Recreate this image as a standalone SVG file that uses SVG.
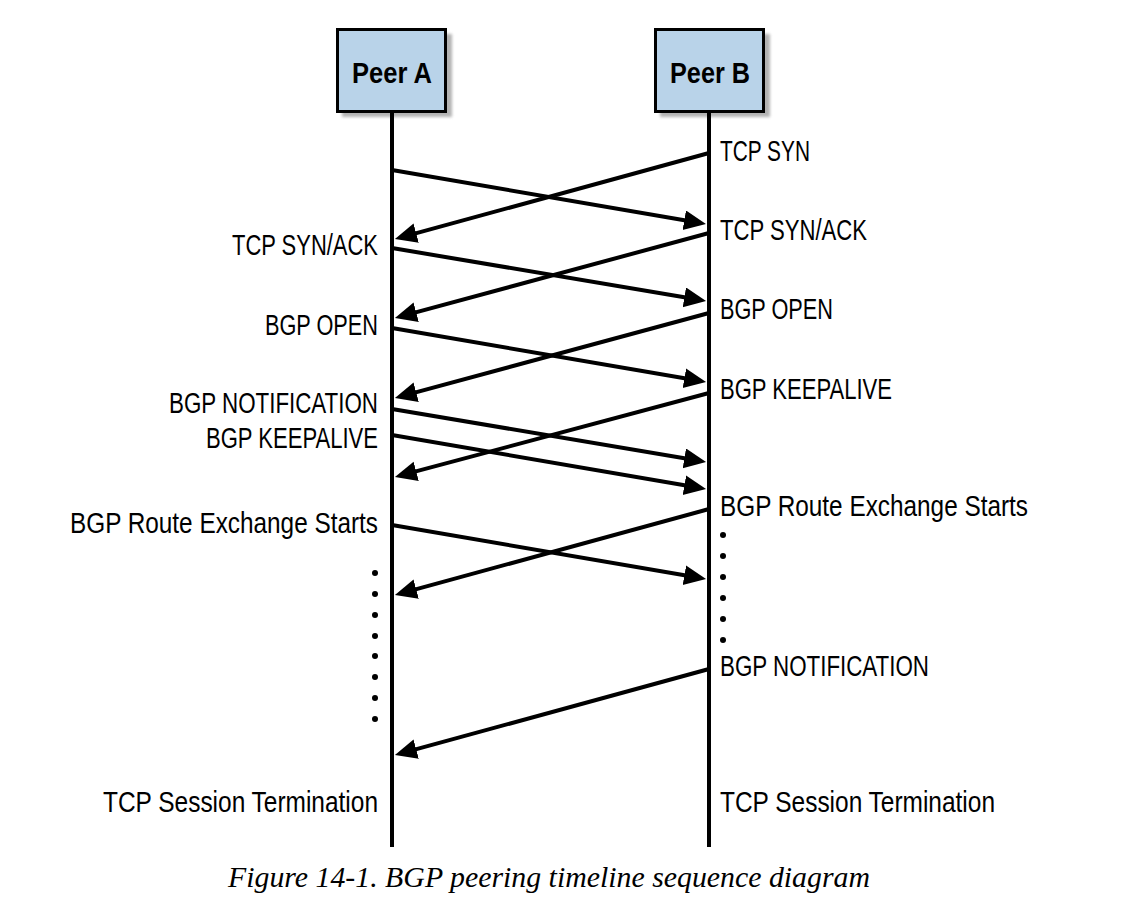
<svg xmlns="http://www.w3.org/2000/svg" width="1141" height="915" viewBox="0 0 1141 915">
<style>
.box{fill:#b9d3e9;stroke:#000;stroke-width:3}
.shadow{fill:#9a9a9a;opacity:0.75}
.life{stroke:#000;stroke-width:4;fill:none}
.msg{stroke:#000;stroke-width:4;fill:none;marker-end:url(#ah)}
.lbl{font-family:"Liberation Sans Narrow","Liberation Sans",Arial,sans-serif;font-size:30px;fill:#000}
.peer{font-family:"Liberation Sans Narrow","Liberation Sans",Arial,sans-serif;font-size:30px;font-weight:bold;fill:#000}
.cap{font-family:"Liberation Serif","Times New Roman",serif;font-style:italic;font-size:30px;fill:#000}
.dot{fill:#000}
</style>
<defs>
<filter id="blur" x="-10%" y="-10%" width="130%" height="130%"><feGaussianBlur stdDeviation="1.5"/></filter>
<marker id="ah" markerUnits="userSpaceOnUse" markerWidth="24" markerHeight="22" refX="12" refY="10" orient="auto">
<path d="M0,0 L22,10 L0,20 z" fill="#000"/>
</marker>
</defs>
<rect width="1141" height="915" fill="#fff"/>

<g id="peerA">
<rect class="shadow" x="342" y="34" width="110" height="83" filter="url(#blur)"/>
<rect class="box" x="337.5" y="29.5" width="108" height="82"/>
<text class="peer" x="392" y="83" text-anchor="middle" textLength="80" lengthAdjust="spacingAndGlyphs">Peer A</text>
</g>
<g id="peerB">
<rect class="shadow" x="660" y="34" width="110" height="83" filter="url(#blur)"/>
<rect class="box" x="655.5" y="29.5" width="108" height="82"/>
<text class="peer" x="710" y="83" text-anchor="middle" textLength="80" lengthAdjust="spacingAndGlyphs">Peer B</text>
</g>

<g id="lifelines">
<line class="life" x1="392" y1="112" x2="392" y2="847"/>
<line class="life" x1="709" y1="112" x2="709" y2="847"/>
</g>

<g id="connectors">
<path class="msg" d="M709,153 L404.6,236.4"/>
<path class="msg" d="M709,233 L404.6,315.4"/>
<path class="msg" d="M709,313 L404.6,395.4"/>
<path class="msg" d="M709,393 L404.6,474.4"/>
<path class="msg" d="M709,509 L404.6,592.4"/>
<path class="msg" d="M709,669 L404.6,752.4"/>
<path class="msg" d="M392,170 L696.1,222.3"/>
<path class="msg" d="M392,248 L696.2,299.3"/>
<path class="msg" d="M392,328 L696.2,380.3"/>
<path class="msg" d="M392,409 L696.2,460.3"/>
<path class="msg" d="M392,435 L696.2,487.3"/>
<path class="msg" d="M392,525 L696.2,577.3"/>
</g>

<g id="dots">
<circle class="dot" cx="375" cy="573" r="3"/>
<circle class="dot" cx="375" cy="594" r="3"/>
<circle class="dot" cx="375" cy="615" r="3"/>
<circle class="dot" cx="375" cy="636" r="3"/>
<circle class="dot" cx="375" cy="656" r="3"/>
<circle class="dot" cx="375" cy="677" r="3"/>
<circle class="dot" cx="375" cy="698" r="3"/>
<circle class="dot" cx="375" cy="719" r="3"/>
<circle class="dot" cx="723" cy="535" r="3"/>
<circle class="dot" cx="723" cy="556" r="3"/>
<circle class="dot" cx="723" cy="577" r="3"/>
<circle class="dot" cx="723" cy="598" r="3"/>
<circle class="dot" cx="723" cy="619" r="3"/>
<circle class="dot" cx="723" cy="640" r="3"/>
</g>

<g id="labelsA">
<text class="lbl" x="378" y="255" text-anchor="end" textLength="146" lengthAdjust="spacingAndGlyphs">TCP SYN/ACK</text>
<text class="lbl" x="378" y="335" text-anchor="end" textLength="113" lengthAdjust="spacingAndGlyphs">BGP OPEN</text>
<text class="lbl" x="378" y="413" text-anchor="end" textLength="209" lengthAdjust="spacingAndGlyphs">BGP NOTIFICATION</text>
<text class="lbl" x="378" y="448" text-anchor="end" textLength="172" lengthAdjust="spacingAndGlyphs">BGP KEEPALIVE</text>
<text class="lbl" x="378" y="533" text-anchor="end" textLength="308" lengthAdjust="spacingAndGlyphs">BGP Route Exchange Starts</text>
<text class="lbl" x="378" y="812" text-anchor="end" textLength="275" lengthAdjust="spacingAndGlyphs">TCP Session Termination</text>
</g>

<g id="labelsB">
<text class="lbl" x="720" y="161" textLength="90" lengthAdjust="spacingAndGlyphs">TCP SYN</text>
<text class="lbl" x="720" y="240" textLength="147" lengthAdjust="spacingAndGlyphs">TCP SYN/ACK</text>
<text class="lbl" x="720" y="319" textLength="113" lengthAdjust="spacingAndGlyphs">BGP OPEN</text>
<text class="lbl" x="720" y="399" textLength="172" lengthAdjust="spacingAndGlyphs">BGP KEEPALIVE</text>
<text class="lbl" x="720" y="516" textLength="308" lengthAdjust="spacingAndGlyphs">BGP Route Exchange Starts</text>
<text class="lbl" x="720" y="676" textLength="209" lengthAdjust="spacingAndGlyphs">BGP NOTIFICATION</text>
<text class="lbl" x="720" y="812" textLength="275" lengthAdjust="spacingAndGlyphs">TCP Session Termination</text>
</g>

<text class="cap" x="228" y="887" textLength="642" lengthAdjust="spacingAndGlyphs">Figure 14-1. BGP peering timeline sequence diagram</text>
</svg>
